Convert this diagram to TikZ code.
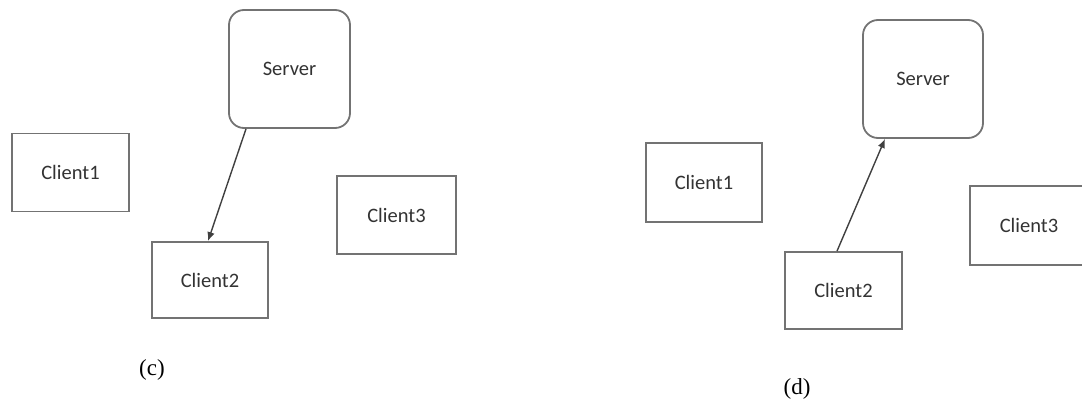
\documentclass[tikz,border=0pt]{standalone}
\usepackage{fontspec}
\setmainfont{Carlito}
\newfontfamily\capfont{Liberation Serif}
\usetikzlibrary{arrows.meta}
\begin{document}
\begin{tikzpicture}[x=1pt,y=-1pt,
  box/.style={draw=black!55,line width=1.8pt,fill=white,inner sep=0pt,
    font=\fontsize{20.5}{24}\selectfont,text=black!80},
  srv/.style={box,rounded corners=15pt,minimum width=121pt,minimum height=118pt},
  cli/.style={box,minimum width=117pt,minimum height=78pt},
  arr/.style={draw=black!75,line width=1.4pt,-{Latex[length=9pt,width=7.5pt]}},
  caplabel/.style={font=\capfont\fontsize{23}{26}\selectfont,inner sep=0pt}]
\useasboundingbox (0,0) rectangle (1082,401);
% panel (c)
\node[srv] (S1) at (289.5,69) {Server};
\node[cli] (C1) at (70.5,172.5) {Client1};
\node[cli,minimum width=116pt,minimum height=76pt] (C2) at (210,280) {Client2};
\node[cli,minimum width=119pt] (C3) at (396.5,215) {Client3};
\draw[arr] ([xshift=-43.5pt]S1.south) -- ([xshift=-2pt]C2.north);
\node[caplabel] (lc) at (152,370) {(c)};
% panel (d)
\node[srv,minimum width=120pt] (S2) at (923,79) {Server};
\node[cli,minimum width=116pt,minimum height=79pt] (D1) at (704,182.5) {Client1};
\node[cli,minimum height=77pt] (D2) at (843.5,290.5) {Client2};
\node[cli,minimum width=118pt,minimum height=79pt] (D3) at (1029,225.5) {Client3};
\draw[arr] ([xshift=-6.5pt]D2.north) -- ([xshift=-38pt]S2.south);
\node[caplabel] (ld) at (797,389) {(d)};
\end{tikzpicture}
\end{document}
